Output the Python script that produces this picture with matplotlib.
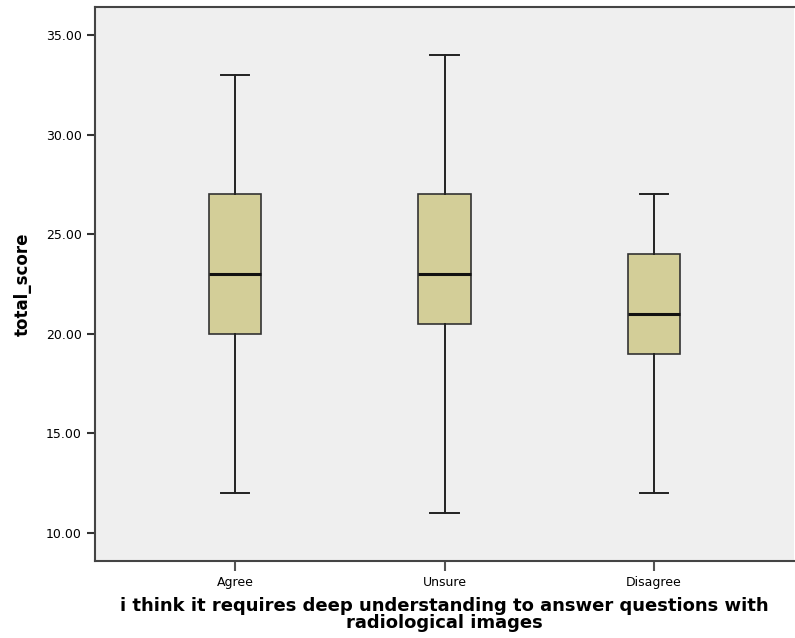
import matplotlib
matplotlib.use("Agg")
import matplotlib.pyplot as plt

categories = ["Agree", "Unsure", "Disagree"]
whisker_low = [12, 11, 12]
q1 = [20, 20.5, 19]
medians = [23, 23, 21]
q3 = [27, 27, 24]
whisker_high = [33, 34, 27]

stats = []
for i in range(len(categories)):
    stats.append({
        "label": categories[i],
        "whislo": whisker_low[i],
        "q1": q1[i],
        "med": medians[i],
        "q3": q3[i],
        "whishi": whisker_high[i],
        "fliers": [],
    })

fig = plt.figure(figsize=(7.95, 6.38), dpi=100)
ax = fig.add_axes([0.1195, 0.1207, 0.8793, 0.8683])
ax.set_facecolor("#efefef")

ax.bxp(stats, positions=[1, 2, 3], widths=0.25, patch_artist=True,
       showfliers=False,
       boxprops=dict(facecolor="#d3ce98", edgecolor="#333333", linewidth=1.2),
       medianprops=dict(color="#111111", linewidth=2.2),
       whiskerprops=dict(color="#222222", linewidth=1.4),
       capprops=dict(color="#222222", linewidth=1.4),
       capwidths=0.135)

ax.set_xlim(0.33, 3.67)
ax.set_ylim(8.6, 36.4)
ax.set_yticks([10, 15, 20, 25, 30, 35])
ax.set_yticklabels(["10.00", "15.00", "20.00", "25.00", "30.00", "35.00"])
ax.tick_params(axis="y", direction="out", length=6, width=1.5, labelsize=9, color="#333333")
ax.tick_params(axis="x", direction="out", length=7, width=1.5, labelsize=9, color="#555555")

for s in ["left", "bottom", "top"]:
    ax.spines[s].set_color("#444444")
    ax.spines[s].set_linewidth(1.5)
ax.spines["right"].set_visible(False)

ax.set_ylabel("total_score", fontsize=12, fontweight="bold", labelpad=10)
ax.set_xlabel("i think it requires deep understanding to answer questions with\nradiological images",
              fontsize=13, fontweight="bold", linespacing=0.95, labelpad=6)

fig.savefig("out.png", dpi=100)
